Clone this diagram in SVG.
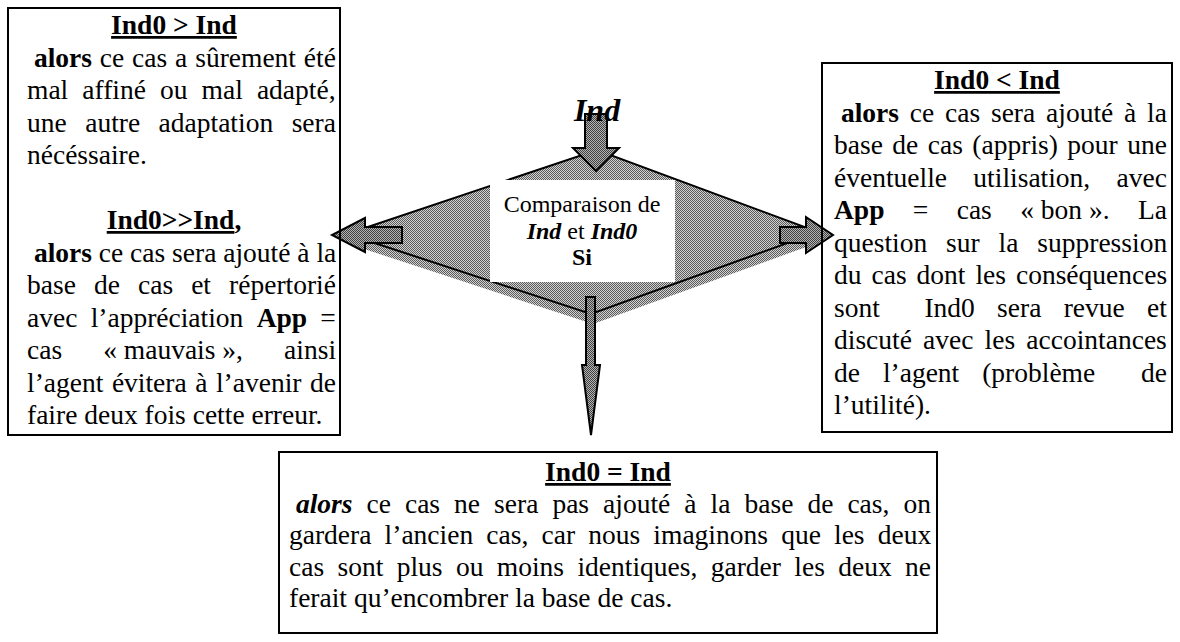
<svg xmlns="http://www.w3.org/2000/svg" width="1180" height="642" viewBox="0 0 1180 642">
<defs>
<pattern id="dither" width="2" height="2" patternUnits="userSpaceOnUse">
<rect width="2" height="2" fill="#d2d2d2"/>
<rect x="0" y="0" width="1" height="1" fill="#5a5a5a"/>
<rect x="1" y="1" width="1" height="1" fill="#5a5a5a"/>
</pattern>
<pattern id="ditherDark" width="2" height="2" patternUnits="userSpaceOnUse">
<rect width="2" height="2" fill="#b4b4b4"/>
<rect x="0" y="0" width="1" height="1" fill="#404040"/>
<rect x="1" y="1" width="1" height="1" fill="#404040"/>
</pattern>
</defs>
<style>
.t { font-family: "Liberation Serif", "Times New Roman", serif; font-size: 27.5px; fill: #000; }
.b { font-weight: bold; }
.bi { font-weight: bold; font-style: italic; }
.u { text-decoration: underline; }
.c { text-anchor: middle; }
.box { fill: none; stroke: #000; stroke-width: 2; }
.arrow { fill: url(#ditherDark); stroke: #000; stroke-width: 2; stroke-linejoin: miter; }
.lbl { font-family: "Liberation Serif", "Times New Roman", serif; font-size: 24px; fill: #000; text-anchor: middle; }
</style>
<rect width="1180" height="642" fill="#fff"/>

<g id="decision">
<polygon points="349,244 599,160 820,242 593,324" fill="url(#dither)"/>
<polygon points="347,234 597,150 818,232 591,314" fill="url(#dither)" stroke="#000" stroke-width="2"/>
<rect x="490" y="180" width="185" height="102" fill="#fff"/>
<text class="lbl" x="582" y="212">Comparaison de</text>
<text class="lbl" x="582" y="239"><tspan class="bi">Ind</tspan> et <tspan class="bi">Ind0</tspan></text>
<text class="lbl b" x="582" y="265">Si</text>
</g>

<g id="connectors">
<polygon class="arrow" points="585,114 607,114 607,148 619,148 596,171 573,148 585,148"/>
<text class="t bi c" style="font-size:32px" x="597" y="121">Ind</text>
<polygon class="arrow" points="402,227 365,227 365,218 332,235 365,252 365,243 402,243"/>
<polygon class="arrow" points="780,227 806,227 806,217 833,235 806,253 806,243 780,243"/>
<polygon class="arrow" points="586,297 595,297 595,365 600,365 591,435 582,365 586,365"/>
</g>

<g id="box-sup">
<rect class="box" x="8" y="8" width="332" height="427"/>
<text class="t b c" x="174" y="34"><tspan class="u">Ind0 &gt; Ind</tspan></text>
<text class="t" x="33.9" y="66.5" word-spacing="1"><tspan class="b">alors</tspan> ce cas a sûrement été</text>
<text class="t" x="27" y="99" word-spacing="7.2">mal affiné ou mal adapté,</text>
<text class="t" x="27" y="131.5" word-spacing="11.6">une autre adaptation sera</text>
<text class="t" x="27" y="164">nécéssaire.</text>
<text class="t b c" x="174" y="229"><tspan class="u">Ind0&gt;&gt;Ind</tspan>,</text>
<text class="t" x="33.9" y="261.5"><tspan class="b">alors</tspan> ce cas sera ajouté à la</text>
<text class="t" x="27" y="294" word-spacing="11.2">base de cas et répertorié</text>
<text class="t" x="27" y="326.5" word-spacing="6.4">avec l’appréciation <tspan class="b">App</tspan> =</text>
<text class="t" y="359"><tspan x="27">cas</tspan><tspan x="103.2">«&#160;mauvais&#160;»,</tspan><tspan x="284.1">ainsi</tspan></text>
<text class="t" x="27" y="391.5" word-spacing="1.65">l’agent évitera à l’avenir de</text>
<text class="t" x="27" y="424">faire deux fois cette erreur.</text>
</g>

<g id="box-inf">
<rect class="box" x="822" y="63" width="350" height="369"/>
<text class="t b c" x="997" y="89"><tspan class="u">Ind0 &lt; Ind</tspan></text>
<text class="t" x="840.9" y="121.5" word-spacing="3.95"><tspan class="b">alors</tspan> ce cas sera ajouté à la</text>
<text class="t" x="834" y="154" word-spacing="2.6">base de cas (appris) pour une</text>
<text class="t" x="834" y="186.5" word-spacing="19.5">éventuelle utilisation, avec</text>
<text class="t" y="219"><tspan class="b" x="834">App</tspan><tspan x="912.8">=</tspan><tspan x="956.7">cas</tspan><tspan x="1020.2">«&#160;bon&#160;».</tspan><tspan x="1138">La</tspan></text>
<text class="t" x="834" y="251.5" word-spacing="12">question sur la suppression</text>
<text class="t" x="834" y="284" word-spacing="3.1">du cas dont les conséquences</text>
<text class="t" y="316.5"><tspan x="834">sont</tspan><tspan x="924.4">Ind0</tspan><tspan x="997.1">sera</tspan><tspan x="1063.7">revue</tspan><tspan x="1147.1">et</tspan></text>
<text class="t" x="834" y="349" word-spacing="4.3">discuté avec les accointances</text>
<text class="t" y="381.5"><tspan x="834">de</tspan><tspan x="882.9">l’agent</tspan><tspan x="982.2">(problème</tspan><tspan x="1141">de</tspan></text>
<text class="t" x="834" y="414">l’utilité).</text>
</g>

<g id="box-egal">
<rect class="box" x="279" y="452" width="658" height="181"/>
<text class="t b c" x="608" y="481"><tspan class="u">Ind0 = Ind</tspan></text>
<text class="t" x="295.9" y="512.5" word-spacing="7.17"><tspan class="bi">alors</tspan> ce cas ne sera pas ajouté à la base de cas, on</text>
<text class="t" x="289" y="544" word-spacing="6.3">gardera l’ancien cas, car nous imaginons que les deux</text>
<text class="t" x="289" y="575.5" word-spacing="6.5">cas sont plus ou moins identiques, garder les deux ne</text>
<text class="t" x="289" y="607">ferait qu’encombrer la base de cas.</text>
</g>
</svg>
